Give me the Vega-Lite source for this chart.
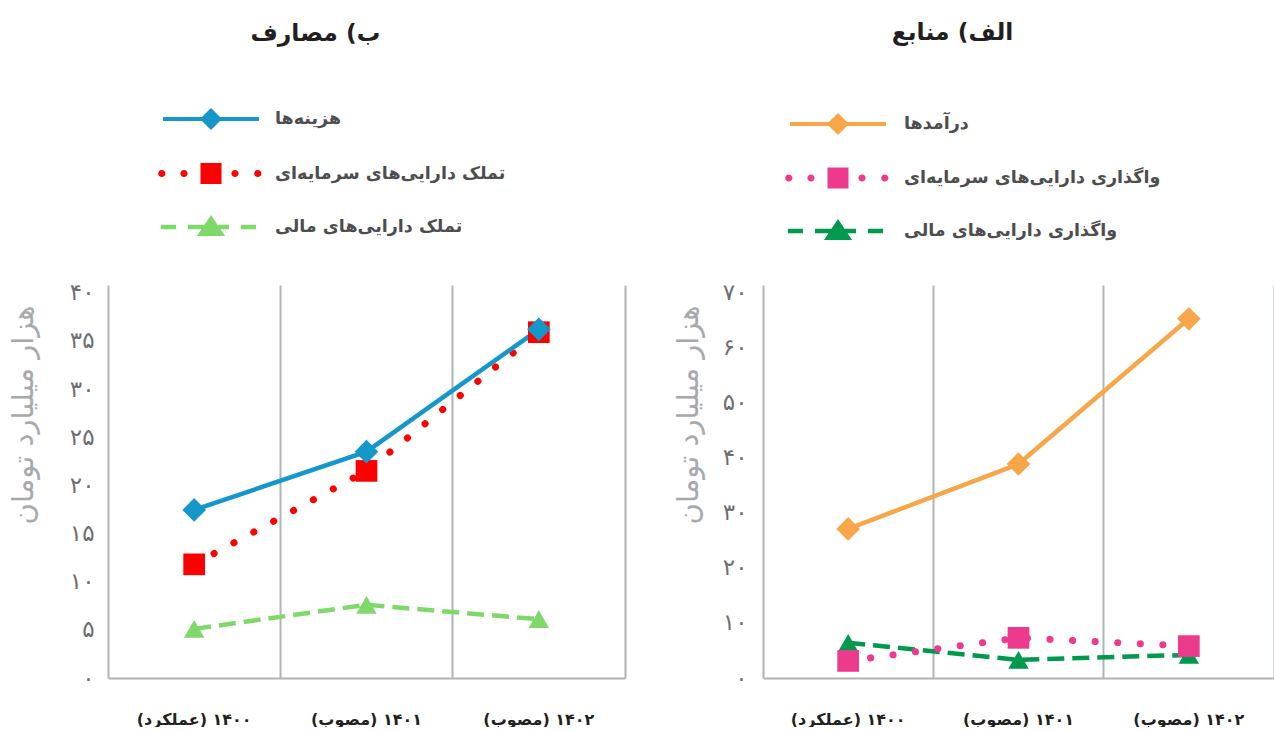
{
  "$schema": "https://vega.github.io/schema/vega-lite/v6.json",
  "background": "white",
  "padding": {"left": 9, "top": 20, "right": 0, "bottom": 0},
  "spacing": 49,
  "config": {
    "view": {"stroke": null},
    "font": "DejaVu Sans"
  },
  "resolve": {
    "scale": {"color": "independent", "shape": "independent", "x": "independent", "y": "independent"},
    "legend": {"color": "independent", "shape": "independent"}
  },
  "hconcat": [
    {
      "width": 517,
      "height": 393,
      "title": {"text": "ب) مصارف", "fontSize": 23.5, "fontWeight": "bold", "color": "#231F20", "font": "DejaVu Sans", "anchor": "middle", "frame": "group", "dx": -51, "offset": 62},
      "data": {"values": [
        {"year": "\u200F۱۴۰۰ (عملکرد)\u200F", "series": "هزینه‌ها", "value": 17.45},
        {"year": "\u200F۱۴۰۱ (مصوب)\u200F", "series": "هزینه‌ها", "value": 23.5},
        {"year": "\u200F۱۴۰۲ (مصوب)\u200F", "series": "هزینه‌ها", "value": 36.2},
        {"year": "\u200F۱۴۰۰ (عملکرد)\u200F", "series": "تملک دارایی‌های سرمایه‌ای", "value": 11.8},
        {"year": "\u200F۱۴۰۱ (مصوب)\u200F", "series": "تملک دارایی‌های سرمایه‌ای", "value": 21.5},
        {"year": "\u200F۱۴۰۲ (مصوب)\u200F", "series": "تملک دارایی‌های سرمایه‌ای", "value": 35.9},
        {"year": "\u200F۱۴۰۰ (عملکرد)\u200F", "series": "تملک دارایی‌های مالی", "value": 5.1},
        {"year": "\u200F۱۴۰۱ (مصوب)\u200F", "series": "تملک دارایی‌های مالی", "value": 7.6},
        {"year": "\u200F۱۴۰۲ (مصوب)\u200F", "series": "تملک دارایی‌های مالی", "value": 6.1}
      ]},
      "encoding": {
        "x": {
          "field": "year", "type": "nominal", "sort": null,
          "scale": {"type": "band", "paddingInner": 0, "paddingOuter": 0},
          "axis": {"title": null, "labelAngle": 0, "ticks": false, "grid": true, "gridColor": "#B1B3B6", "gridWidth": 2, "bandPosition": 1, "labelOffset": 0, "labelPadding": 33, "labelFontSize": 16, "labelFontWeight": "bold", "labelColor": "#231F20", "labelFont": "DejaVu Sans", "domainColor": "#B1B3B6", "domainWidth": 2, "labelLimit": 300}
        },
        "y": {
          "field": "value", "type": "quantitative",
          "scale": {"domain": [0, 40.8], "nice": false},
          "axis": {"values": [0, 5, 10, 15, 20, 25, 30, 35, 40], "grid": false, "ticks": false, "domainColor": "#B1B3B6", "domainWidth": 2, "labelPadding": 14, "labelFontSize": 23, "labelColor": "#6D6E71", "labelFont": "DejaVu Sans",
            "labelExpr": "replace(replace(replace(replace(replace(replace(replace(replace(replace(replace(datum.label,regexp('0','g'),'۰'),regexp('1','g'),'۱'),regexp('2','g'),'۲'),regexp('3','g'),'۳'),regexp('4','g'),'۴'),regexp('5','g'),'۵'),regexp('6','g'),'۶'),regexp('7','g'),'۷'),regexp('8','g'),'۸'),regexp('9','g'),'۹')",
            "title": "هزار میلیارد تومان", "titleFont": "DejaVu Sans", "titleFontSize": 29, "titleFontWeight": "normal", "titleColor": "#A7A9AC", "titleAngle": 270, "titleX": -70, "titleY": 20, "titleAlign": "right", "titleBaseline": "bottom"}
        }
      },
      "layer": [
        {"transform": [{"filter": "datum.series === 'تملک دارایی‌های مالی'"}], "mark": {"type": "line", "color": "#7ED86A", "strokeWidth": 4.5, "strokeDash": [17, 8]}},
        {"transform": [{"filter": "datum.series === 'تملک دارایی‌های سرمایه‌ای'"}], "mark": {"type": "line", "color": "#FF0000", "strokeWidth": 7, "strokeDash": [0.1, 22.5], "strokeCap": "round"}},
        {"transform": [{"filter": "datum.series === 'هزینه‌ها'"}], "mark": {"type": "line", "color": "#1597CA", "strokeWidth": 4.5}},
        {"transform": [{"filter": "datum.series === 'تملک دارایی‌های مالی'"}], "mark": {"type": "point", "shape": "triangle-up", "filled": true, "opacity": 1, "color": "#7ED86A", "size": 420}},
        {"transform": [{"filter": "datum.series === 'تملک دارایی‌های سرمایه‌ای'"}], "mark": {"type": "point", "shape": "square", "filled": true, "opacity": 1, "color": "#FF0000", "size": 470}},
        {"transform": [{"filter": "datum.series === 'هزینه‌ها'"}], "mark": {"type": "point", "shape": "diamond", "filled": true, "opacity": 1, "color": "#1597CA", "size": 560}},
        {
          "mark": {"type": "point", "filled": true, "opacity": 0},
          "encoding": {
            "color": {"field": "series", "type": "nominal",
              "scale": {"domain": ["هزینه‌ها", "تملک دارایی‌های سرمایه‌ای", "تملک دارایی‌های مالی"], "range": ["#1597CA", "#FF0000", "#7ED86A"]},
              "legend": {"orient": "none", "legendX": 91, "legendY": -178, "title": null, "symbolSize": 576, "symbolStrokeWidth": 0, "symbolOpacity": 1, "labelFont": "DejaVu Sans", "labelFontSize": 17.5, "labelFontWeight": "bold", "labelColor": "#4D4D4F", "labelOffset": 52, "rowPadding": 30.5, "padding": 0, "labelLimit": 500}},
            "shape": {"field": "series", "type": "nominal",
              "scale": {"domain": ["هزینه‌ها", "تملک دارایی‌های سرمایه‌ای", "تملک دارایی‌های مالی"], "range": [
                "M-4,-0.17H4V0.17H-4Z M0,-0.92L0.92,0L0,0.92L-0.92,0Z",
                "M-4.4,0A0.3,0.3 0 1,0 -3.8,0A0.3,0.3 0 1,0 -4.4,0Z M-2.55,0A0.3,0.3 0 1,0 -1.95,0A0.3,0.3 0 1,0 -2.55,0Z M1.7,0A0.3,0.3 0 1,0 2.3,0A0.3,0.3 0 1,0 1.7,0Z M3.6,0A0.3,0.3 0 1,0 4.2,0A0.3,0.3 0 1,0 3.6,0Z M-0.875,-0.875H0.875V0.875H-0.875Z",
                "M-4.17,-0.18H-2.92V0.18H-4.17Z M-1.92,-0.18H1.5V0.18H-1.92Z M2.5,-0.18H3.75V0.18H2.5Z M0,-1.0L1.17,0.75H-1.17Z"
              ]},
              "legend": {"orient": "none", "legendX": 91, "legendY": -178, "title": null, "symbolSize": 576, "symbolStrokeWidth": 0, "symbolOpacity": 1, "labelFont": "DejaVu Sans", "labelFontSize": 17.5, "labelFontWeight": "bold", "labelColor": "#4D4D4F", "labelOffset": 52, "rowPadding": 30.5, "padding": 0, "labelLimit": 500}}
          }
        }
      ]
    },
    {
      "width": 511,
      "height": 393,
      "title": {"text": "الف) منابع", "fontSize": 23.5, "fontWeight": "bold", "color": "#231F20", "font": "DejaVu Sans", "anchor": "middle", "frame": "group", "dx": -66, "offset": 68},
      "data": {"values": [
        {"year": "\u200F۱۴۰۰ (عملکرد)\u200F", "series": "درآمدها", "value": 27.1},
        {"year": "\u200F۱۴۰۱ (مصوب)\u200F", "series": "درآمدها", "value": 38.9},
        {"year": "\u200F۱۴۰۲ (مصوب)\u200F", "series": "درآمدها", "value": 65.3},
        {"year": "\u200F۱۴۰۰ (عملکرد)\u200F", "series": "واگذاری دارایی‌های سرمایه‌ای", "value": 3.1},
        {"year": "\u200F۱۴۰۱ (مصوب)\u200F", "series": "واگذاری دارایی‌های سرمایه‌ای", "value": 7.3},
        {"year": "\u200F۱۴۰۲ (مصوب)\u200F", "series": "واگذاری دارایی‌های سرمایه‌ای", "value": 5.8},
        {"year": "\u200F۱۴۰۰ (عملکرد)\u200F", "series": "واگذاری دارایی‌های مالی", "value": 6.4},
        {"year": "\u200F۱۴۰۱ (مصوب)\u200F", "series": "واگذاری دارایی‌های مالی", "value": 3.3},
        {"year": "\u200F۱۴۰۲ (مصوب)\u200F", "series": "واگذاری دارایی‌های مالی", "value": 4.2}
      ]},
      "encoding": {
        "x": {
          "field": "year", "type": "nominal", "sort": null,
          "scale": {"type": "band", "paddingInner": 0, "paddingOuter": 0},
          "axis": {"title": null, "labelAngle": 0, "ticks": false, "grid": true, "gridColor": "#B1B3B6", "gridWidth": 2, "bandPosition": 1, "labelOffset": 0, "labelPadding": 33, "labelFontSize": 16, "labelFontWeight": "bold", "labelColor": "#231F20", "labelFont": "DejaVu Sans", "domainColor": "#B1B3B6", "domainWidth": 2, "labelLimit": 300}
        },
        "y": {
          "field": "value", "type": "quantitative",
          "scale": {"domain": [0, 71.45], "nice": false},
          "axis": {"values": [0, 10, 20, 30, 40, 50, 60, 70], "grid": false, "ticks": false, "domainColor": "#B1B3B6", "domainWidth": 2, "labelPadding": 16, "labelFontSize": 23, "labelColor": "#6D6E71", "labelFont": "DejaVu Sans",
            "labelExpr": "replace(replace(replace(replace(replace(replace(replace(replace(replace(replace(datum.label,regexp('0','g'),'۰'),regexp('1','g'),'۱'),regexp('2','g'),'۲'),regexp('3','g'),'۳'),regexp('4','g'),'۴'),regexp('5','g'),'۵'),regexp('6','g'),'۶'),regexp('7','g'),'۷'),regexp('8','g'),'۸'),regexp('9','g'),'۹')",
            "title": "هزار میلیارد تومان", "titleFont": "DejaVu Sans", "titleFontSize": 29, "titleFontWeight": "normal", "titleColor": "#A7A9AC", "titleAngle": 270, "titleX": -60, "titleY": 20, "titleAlign": "right", "titleBaseline": "bottom"}
        }
      },
      "layer": [
        {"transform": [{"filter": "datum.series === 'واگذاری دارایی‌های مالی'"}], "mark": {"type": "line", "color": "#00994D", "strokeWidth": 4.5, "strokeDash": [17, 8]}},
        {"transform": [{"filter": "datum.series === 'واگذاری دارایی‌های سرمایه‌ای'"}], "mark": {"type": "line", "color": "#EE3A8C", "strokeWidth": 7, "strokeDash": [0.1, 22.5], "strokeCap": "round"}},
        {"transform": [{"filter": "datum.series === 'درآمدها'"}], "mark": {"type": "line", "color": "#F7A64A", "strokeWidth": 4.5}},
        {"transform": [{"filter": "datum.series === 'واگذاری دارایی‌های مالی'"}], "mark": {"type": "point", "shape": "triangle-up", "filled": true, "opacity": 1, "color": "#00994D", "size": 420}},
        {"transform": [{"filter": "datum.series === 'واگذاری دارایی‌های سرمایه‌ای'"}], "mark": {"type": "point", "shape": "square", "filled": true, "opacity": 1, "color": "#EE3A8C", "size": 470}},
        {"transform": [{"filter": "datum.series === 'درآمدها'"}], "mark": {"type": "point", "shape": "diamond", "filled": true, "opacity": 1, "color": "#F7A64A", "size": 560}},
        {
          "mark": {"type": "point", "filled": true, "opacity": 0},
          "encoding": {
            "color": {"field": "series", "type": "nominal",
              "scale": {"domain": ["درآمدها", "واگذاری دارایی‌های سرمایه‌ای", "واگذاری دارایی‌های مالی"], "range": ["#F7A64A", "#EE3A8C", "#00994D"]},
              "legend": {"orient": "none", "legendX": 63, "legendY": -173, "title": null, "symbolSize": 576, "symbolStrokeWidth": 0, "symbolOpacity": 1, "labelFont": "DejaVu Sans", "labelFontSize": 17.5, "labelFontWeight": "bold", "labelColor": "#4D4D4F", "labelOffset": 54, "rowPadding": 30, "padding": 0, "labelLimit": 500}},
            "shape": {"field": "series", "type": "nominal",
              "scale": {"domain": ["درآمدها", "واگذاری دارایی‌های سرمایه‌ای", "واگذاری دارایی‌های مالی"], "range": [
                "M-4,-0.17H4V0.17H-4Z M0,-0.92L0.92,0L0,0.92L-0.92,0Z",
                "M-4.4,0A0.3,0.3 0 1,0 -3.8,0A0.3,0.3 0 1,0 -4.4,0Z M-2.55,0A0.3,0.3 0 1,0 -1.95,0A0.3,0.3 0 1,0 -2.55,0Z M1.7,0A0.3,0.3 0 1,0 2.3,0A0.3,0.3 0 1,0 1.7,0Z M3.6,0A0.3,0.3 0 1,0 4.2,0A0.3,0.3 0 1,0 3.6,0Z M-0.875,-0.875H0.875V0.875H-0.875Z",
                "M-4.17,-0.18H-2.92V0.18H-4.17Z M-1.92,-0.18H1.5V0.18H-1.92Z M2.5,-0.18H3.75V0.18H2.5Z M0,-1.0L1.17,0.75H-1.17Z"
              ]},
              "legend": {"orient": "none", "legendX": 63, "legendY": -173, "title": null, "symbolSize": 576, "symbolStrokeWidth": 0, "symbolOpacity": 1, "labelFont": "DejaVu Sans", "labelFontSize": 17.5, "labelFontWeight": "bold", "labelColor": "#4D4D4F", "labelOffset": 54, "rowPadding": 30, "padding": 0, "labelLimit": 500}}
          }
        }
      ]
    }
  ]
}
